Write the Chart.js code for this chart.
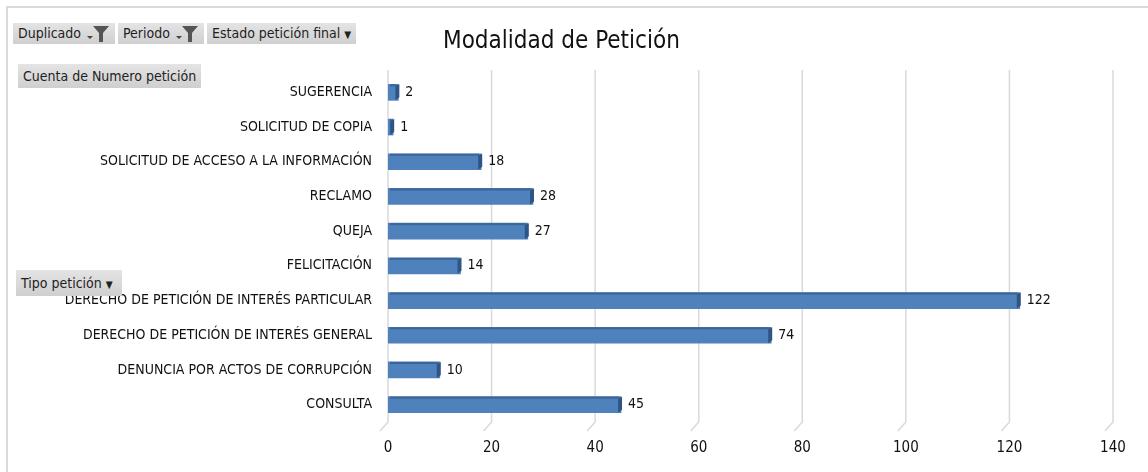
<!DOCTYPE html>
<html>
<head>
<meta charset="utf-8">
<script src="https://cdn.jsdelivr.net/npm/chart.js@4"></script>
<style>
  body { margin: 0; background: #fff; }
  #wrap { position: relative; width: 1148px; height: 472px; overflow: hidden;
          font-family: 'Liberation Sans Narrow', 'DejaVu Sans Condensed', sans-serif; }
  #frame { position: absolute; left: 6px; top: 6px; width: 1200px; height: 500px;
           border-left: 2px solid #d9d9d9; border-top: 2px solid #d9d9d9; }
  canvas { position: absolute; left: 0; top: 0; }
  .btn { position: absolute; background: linear-gradient(#e4e4e4, #cfcfcf); color: #1f1f1f;
         font-size: 14px; line-height: 21px; padding: 0 5px; white-space: nowrap; }
  .btn svg { vertical-align: -4px; margin-left: 3px; }
  #titulo { position: absolute; left: 443px; top: 26px; font-size: 24px; color: #111; white-space: nowrap; }
</style>
</head>
<body>
<div id="wrap">
  <div id="frame"></div>
  <canvas id="grafica" width="1148" height="472"></canvas>
  <div id="titulo">Modalidad de Petición</div>
  <div class="btn" style="left:13px;top:23px;height:21px;">Duplicado<svg width="26" height="18" viewBox="0 0 26 18"><path d="M3 12 L9 12 L6 15 Z" fill="#444"/><path d="M9 2 L25 2 L19 9 L19 18 L15 18 L15 9 Z" fill="#555"/></svg></div>
  <div class="btn" style="left:118px;top:23px;height:21px;">Periodo<svg width="26" height="18" viewBox="0 0 26 18"><path d="M3 12 L9 12 L6 15 Z" fill="#444"/><path d="M9 2 L25 2 L19 9 L19 18 L15 18 L15 9 Z" fill="#555"/></svg></div>
  <div class="btn" style="left:207px;top:23px;height:21px;">Estado petición final <span style="font-size:10px">&#9660;</span></div>
  <div class="btn" style="left:18px;top:64px;height:24px;line-height:24px;">Cuenta de Numero petición</div>
  <div class="btn" style="left:16px;top:270px;height:26px;line-height:26px;padding-right:9px;">Tipo petición <span style="font-size:10px">&#9660;</span></div>
</div>
<script>
// Datos
const categorias = ['SUGERENCIA', 'SOLICITUD DE COPIA', 'SOLICITUD DE ACCESO A LA INFORMACIÓN', 'RECLAMO', 'QUEJA',
    'FELICITACIÓN', 'DERECHO DE PETICIÓN DE INTERÉS PARTICULAR', 'DERECHO DE PETICIÓN DE INTERÉS GENERAL',
    'DENUNCIA POR ACTOS DE CORRUPCIÓN', 'CONSULTA'];
const valores = [2, 1, 18, 28, 27, 14, 122, 74, 10, 45];
const ticksX = [0, 20, 40, 60, 80, 100, 120, 140];

const fuente = "'Liberation Sans Narrow', 'DejaVu Sans Condensed', sans-serif";

// piso 3D de la cuadrícula + tapa de las barras + etiquetas
const extras = {
    id: 'extras',
    beforeDatasetsDraw(chart) {
        const ctx = chart.ctx;
        const sx = chart.scales.x;
        const area = chart.chartArea;
        ctx.save();
        ctx.strokeStyle = '#d9d9d9';
        ctx.lineWidth = 1.5;
        ticksX.forEach(function (t) {
            const x = sx.getPixelForValue(t);
            ctx.beginPath();
            ctx.moveTo(x, area.top - 5);
            ctx.lineTo(x, area.bottom);
            ctx.lineTo(x - 8, area.bottom + 9);
            ctx.stroke();
        });
        ctx.restore();
    },
    afterDatasetsDraw(chart) {
        const ctx = chart.ctx;
        const meta = chart.getDatasetMeta(0);
        ctx.save();
        meta.data.forEach(function (bar, i) {
            const h = bar.height;
            const top = bar.y - h / 2;
            // tapa oscura a la derecha
            ctx.fillStyle = '#2f5584';
            ctx.beginPath();
            ctx.moveTo(bar.x - 3, top + 2);
            ctx.lineTo(bar.x + 1, top);
            ctx.lineTo(bar.x + 1, top + h - 3);
            ctx.lineTo(bar.x - 3, top + h);
            ctx.closePath();
            ctx.fill();
            // borde superior más oscuro
            ctx.fillStyle = '#3c6597';
            ctx.fillRect(bar.base + 2, top, bar.x - bar.base - 4, 2);
            ctx.fillStyle = '#111';
            ctx.font = '14px ' + fuente;
            ctx.textBaseline = 'middle';
            ctx.fillText(valores[i], bar.x + 7, bar.y);
        });
        ctx.restore();
    }
};

const graph = document.querySelector('#grafica');

new Chart(graph, {
    type: 'bar',
    data: {
        labels: categorias,
        datasets: [{
            data: valores,
            backgroundColor: function (c) {
                const el = c.element;
                if (!c.chart.chartArea || !el || el.y === undefined) return '#4f81bd';
                const g = c.chart.ctx.createLinearGradient(0, el.y - 8, 0, el.y + 8);
                g.addColorStop(0, '#4a7ab4');
                g.addColorStop(0.5, '#5385c2');
                g.addColorStop(1, '#4675ad');
                return g;
            },
            borderWidth: 0,
            barThickness: 16
        }]
    },
    plugins: [extras],
    options: {
        indexAxis: 'y',
        responsive: false,
        animation: false,
        layout: { padding: { top: 75, right: 35, left: 0, bottom: 0 } },
        plugins: { legend: { display: false }, tooltip: { enabled: false } },
        scales: {
            x: {
                min: 0, max: 140,
                afterBuildTicks: function (s) { s.ticks = ticksX.map(function (v) { return { value: v }; }); },
                afterFit: function (s) { s.height = 50; },
                grid: { display: false, drawTicks: false },
                border: { display: false },
                ticks: { padding: 17, color: '#111', font: { family: fuente, size: 15 } }
            },
            y: {
                afterFit: function (s) { s.width = 388; },
                grid: { display: false, drawTicks: false },
                border: { display: false },
                ticks: { padding: 16, color: '#111', font: { family: fuente, size: 14 } }
            }
        }
    }
});
</script>
</body>
</html>
